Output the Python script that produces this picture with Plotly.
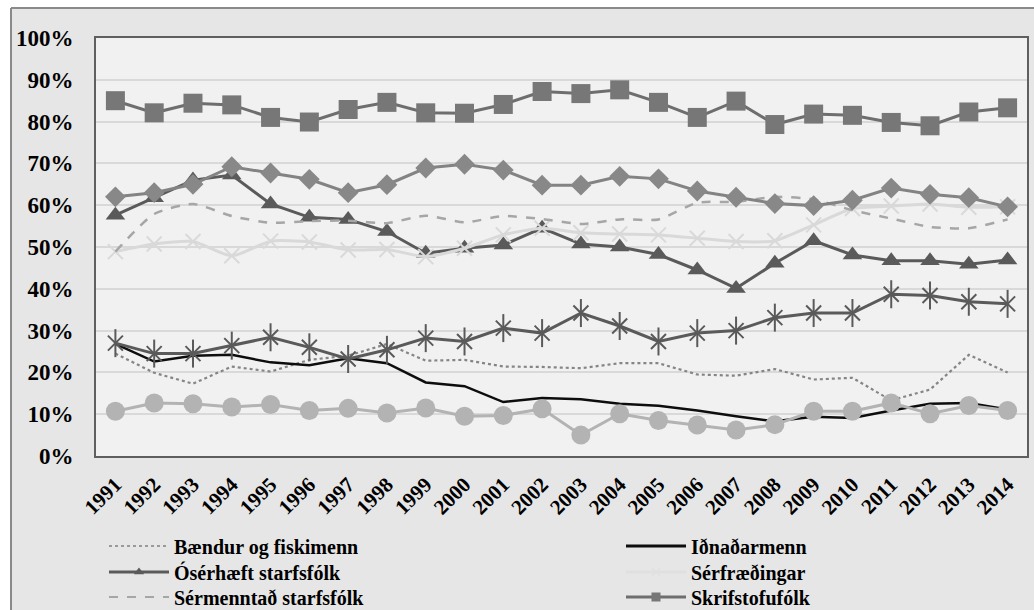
import plotly.graph_objects as go

years = [str(y) for y in range(1991, 2015)]

baendur = [24.5, 19.9, 17.3, 21.4, 20.2, 23.0, 24.0, 26.8, 22.8, 23.0, 21.4, 21.3,
           21.0, 22.2, 22.2, 19.5, 19.2, 20.8, 18.3, 18.7, 13.3, 15.9, 24.2, 20.0]
idnadarmenn = [26.8, 22.6, 24.0, 24.2, 22.4, 21.7, 23.4, 22.2, 17.6, 16.7, 12.9, 13.9,
               13.6, 12.5, 12.0, 10.9, 9.5, 8.3, 9.4, 9.1, 10.9, 12.5, 12.7, 11.1]
oserhaeft = [57.6, 61.8, 66.0, 67.2, 60.3, 57.1, 56.6, 53.7, 48.5, 49.7, 50.5, 54.5,
             50.7, 50.0, 48.2, 44.5, 40.1, 46.1, 51.5, 48.1, 46.7, 46.7, 45.9, 46.9]
serfraedingar = [48.9, 50.7, 51.3, 47.9, 51.4, 51.2, 49.3, 49.4, 47.7, 49.7, 52.9, 54.5,
                 53.4, 53.1, 52.9, 52.1, 51.3, 51.5, 55.3, 59.2, 59.8, 60.3, 59.5, 59.6]
sermenntad = [48.9, 57.9, 60.3, 57.4, 55.8, 56.2, 56.3, 55.7, 57.5, 55.9, 57.4, 56.7,
              55.5, 56.6, 56.6, 60.6, 60.8, 62.0, 61.4, 58.8, 56.8, 54.8, 54.5, 56.6]
skrifstofufolk = [85.0, 82.1, 84.4, 84.0, 81.0, 79.9, 82.9, 84.6, 82.1, 82.0, 84.1, 87.2,
                  86.7, 87.6, 84.6, 81.0, 84.9, 79.3, 81.8, 81.5, 79.8, 79.0, 82.3, 83.3]
stjornendur = [27.0, 24.5, 24.5, 26.4, 28.4, 26.0, 23.2, 25.4, 28.2, 27.4, 30.6, 29.4,
               34.2, 31.1, 27.4, 29.4, 30.0, 33.1, 34.2, 34.2, 38.7, 38.4, 36.9, 36.4]
thjonusta = [62.0, 63.0, 65.0, 69.2, 67.7, 66.2, 63.0, 64.9, 68.9, 69.8, 68.4, 64.8,
             64.8, 66.9, 66.3, 63.4, 61.9, 60.4, 59.9, 61.2, 64.1, 62.6, 61.8, 59.6]
velafolk = [10.7, 12.7, 12.5, 11.7, 12.3, 10.9, 11.4, 10.3, 11.5, 9.5, 9.7, 11.3,
            5.0, 10.1, 8.5, 7.4, 6.2, 7.5, 10.7, 10.7, 12.7, 10.1, 12.1, 10.9]

W, H = 1034, 610
ML, MR, MT, MB = 96, 7, 38, 154
PW, PH = W - ML - MR, H - MT - MB


def px_x(px):
    return (px - ML) / PW


def px_y(py):
    return (H - MB - py) / PH


fig = go.Figure()

FONT = "Liberation Serif"

fig.add_trace(go.Scatter(x=years, y=baendur, mode="lines", name="Bændur og fiskimenn",
                         line=dict(color="#858585", width=2.2, dash="dot"), showlegend=False))
fig.add_trace(go.Scatter(x=years, y=idnadarmenn, mode="lines", name="Iðnaðarmenn",
                         line=dict(color="#0d0d0d", width=2.5), showlegend=False))
fig.add_trace(go.Scatter(x=years, y=oserhaeft, mode="lines+markers", name="Ósérhæft starfsfólk",
                         line=dict(color="#5a5a5a", width=3),
                         marker=dict(symbol="triangle-up", size=17, color="#5a5a5a"), showlegend=False))
fig.add_trace(go.Scatter(x=years, y=serfraedingar, mode="lines+markers", name="Sérfræðingar",
                         line=dict(color="#d9d9d9", width=3, shape="spline", smoothing=0.6),
                         marker=dict(symbol="x-thin-open", size=15, color="#d9d9d9",
                                     line=dict(color="#d9d9d9", width=2)), showlegend=False))
fig.add_trace(go.Scatter(x=years, y=sermenntad, mode="lines", name="Sérmenntað starfsfólk",
                         line=dict(color="#a6a6a6", width=2.5, dash="dash", shape="spline", smoothing=0.6),
                         showlegend=False))
fig.add_trace(go.Scatter(x=years, y=skrifstofufolk, mode="lines+markers", name="Skrifstofufólk",
                         line=dict(color="#6e6e6e", width=3),
                         marker=dict(symbol="square", size=19, color="#777777"), showlegend=False))
fig.add_trace(go.Scatter(x=years, y=stjornendur, mode="lines+markers", name="Stjórnendur",
                         line=dict(color="#5a5a5a", width=3),
                         marker=dict(symbol="x-thin-open", size=15, color="#5a5a5a",
                                     line=dict(color="#5a5a5a", width=2)), showlegend=False))
fig.add_trace(go.Scatter(x=years, y=stjornendur, mode="markers", name="Stjórnendur",
                         marker=dict(symbol="line-ns-open", size=20, color="#5a5a5a",
                                     line=dict(color="#5a5a5a", width=2)), showlegend=False,
                         hoverinfo="skip"))
fig.add_trace(go.Scatter(x=years, y=thjonusta, mode="lines+markers", name="Þjónustu- og sölufólk",
                         line=dict(color="#838383", width=3),
                         marker=dict(symbol="diamond", size=16, color="#888888"), showlegend=False))
fig.add_trace(go.Scatter(x=years, y=velafolk, mode="lines+markers", name="Véla- og verkafólk",
                         line=dict(color="#b3b3b3", width=3),
                         marker=dict(symbol="circle", size=19, color="#b3b3b3"), showlegend=False))

# legend entries: (name, line, marker, legend id, column x px, row y px)
leg = [
    ("Bændur og fiskimenn", dict(color="#9a9a9a", width=2, dash="dot"), None, "legend", 104, 546),
    ("Iðnaðarmenn", dict(color="#0d0d0d", width=3), None, "legend2", 621, 546),
    ("Ósérhæft starfsfólk", dict(color="#5a5a5a", width=3), dict(symbol="triangle-up", size=9, color="#5a5a5a"), "legend3", 104, 572),
    ("Sérfræðingar", dict(color="#e0e0e0", width=3), dict(symbol="x-thin-open", size=8, line=dict(color="#d0d0d0", width=1.5)), "legend4", 621, 572),
    ("Sérmenntað starfsfólk", dict(color="#a6a6a6", width=2, dash="dash"), None, "legend5", 104, 597),
    ("Skrifstofufólk", dict(color="#6e6e6e", width=3), dict(symbol="square", size=9, color="#777777"), "legend6", 621, 597),
]
legend_layout = {}
for name, ln, mk, lg, lx, ly in leg:
    fig.add_trace(go.Scatter(x=[None], y=[None], name=name,
                             mode="lines+markers" if mk else "lines",
                             line=ln, marker=mk, legend=lg, hoverinfo="skip"))
    legend_layout[lg] = dict(
        x=px_x(lx), y=px_y(ly), orientation="v", xanchor="left", yanchor="middle",
        font=dict(family=FONT, size=20, color="#000000", weight="bold"),
        bgcolor="rgba(0,0,0,0)", itemwidth=60, tracegroupgap=0,
    )

shapes = [
    dict(type="rect", xref="paper", yref="paper", x0=px_x(-5), x1=px_x(W + 5),
         y0=px_y(8), y1=px_y(-5), fillcolor="white", line=dict(width=0), layer="below"),
    dict(type="rect", xref="paper", yref="paper", x0=px_x(-5), x1=px_x(11),
         y0=px_y(H + 5), y1=px_y(-5), fillcolor="white", line=dict(width=0), layer="below"),
    dict(type="line", xref="paper", yref="paper", x0=px_x(11), x1=px_x(W + 5),
         y0=px_y(8), y1=px_y(8), line=dict(color="#8a8a8a", width=2), layer="below"),
    dict(type="line", xref="paper", yref="paper", x0=px_x(11), x1=px_x(11),
         y0=px_y(8), y1=px_y(H + 5), line=dict(color="#8a8a8a", width=2), layer="below"),
]

fig.update_layout(
    width=W, height=H,
    margin=dict(l=ML, r=MR, t=MT, b=MB, pad=0, autoexpand=False),
    paper_bgcolor="#e6e6e6",
    plot_bgcolor="#f1f1f1",
    font=dict(family=FONT, color="#000000", weight="bold"),
    shapes=shapes,
    xaxis=dict(
        type="category", range=[-0.5, 23.5],
        tickangle=-45, tickfont=dict(family=FONT, size=21, color="#000000", weight="bold"),
        showgrid=False, showline=True, mirror=True, linecolor="#5f5f5f", linewidth=2,
        ticks="", ticklabelstandoff=6,
    ),
    yaxis=dict(
        range=[0, 100], dtick=10, ticksuffix="%",
        tickfont=dict(family=FONT, size=23, color="#000000", weight="bold"),
        showgrid=True, gridcolor="#d9d9d9", gridwidth=2, zeroline=False,
        showline=True, mirror=True, linecolor="#5f5f5f", linewidth=2,
        ticks="", ticklabelstandoff=16,
    ),
    **legend_layout,
)

fig.write_html(
    "out.html",
    config={"displayModeBar": False},
    post_script="document.body.style.margin='0';document.body.style.overflow='hidden';",
)
